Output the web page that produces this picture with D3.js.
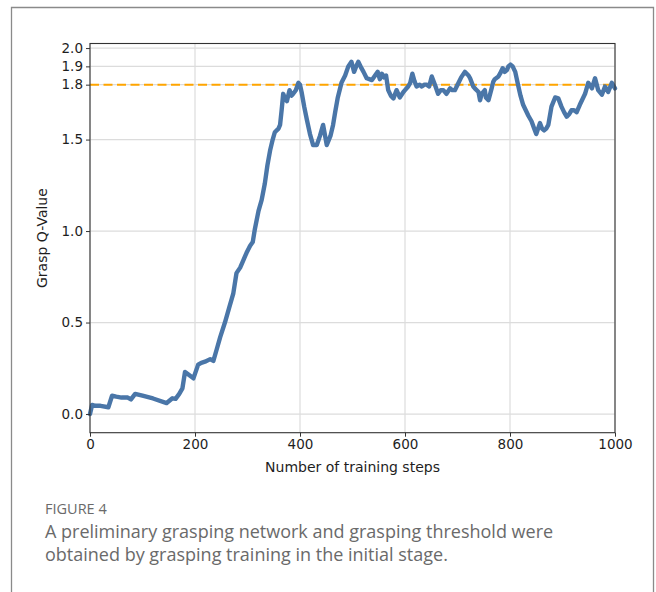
<!DOCTYPE html>
<html>
<head>
<meta charset="utf-8">
<script src="https://cdn.jsdelivr.net/npm/d3@7"></script>
<style>
  body { margin: 0; background: #fff; }
  svg { display: block; }
  .tick text { font-family: "DejaVu Sans", sans-serif; font-size: 13.5px; fill: #1e1e1e; }
</style>
</head>
<body>
<svg id="chart" width="656" height="592"></svg>
<script>
// training steps and smoothed grasp Q-values
const steps = [0, 4, 10, 20, 35, 42, 50, 60, 72, 78, 86, 100, 120, 146, 157, 163, 170, 176, 181, 190,
  197, 206, 212, 219, 229, 235, 241, 248, 257, 265, 273, 279, 286, 292, 298, 305, 310, 314, 321, 327,
  333, 338, 343, 348, 352, 359, 362, 365, 368, 372, 375, 380, 384, 387, 392, 397, 400, 403, 408, 413,
  419, 425, 432, 438, 444, 451, 458, 463, 467, 472, 479, 486, 492, 498, 503, 507, 511, 517, 521, 527,
  532, 537, 543, 548, 552, 556, 560, 564, 568, 573, 578, 584, 590, 597, 600, 606, 610, 614, 618, 622,
  628, 632, 637, 641, 646, 651, 657, 663, 668, 673, 679, 686, 690, 695, 702, 707, 714, 721, 724, 730,
  733, 740, 743, 746, 752, 754, 759, 765, 768, 771, 778, 781, 786, 790, 794, 797, 801, 805, 810, 816,
  820, 825, 830, 835, 841, 846, 850, 857, 861, 865, 869, 873, 879, 886, 892, 898, 903, 908, 913, 917,
  922, 927, 933, 938, 943, 949, 956, 962, 968, 975, 981, 987, 994, 1000];
const qValues = [0.00, 0.05, 0.045, 0.045, 0.037, 0.10, 0.095, 0.09, 0.09, 0.08, 0.11, 0.10, 0.085, 0.06, 0.086, 0.083, 0.11, 0.14, 0.23, 0.21,
  0.195, 0.27, 0.28, 0.286, 0.30, 0.29, 0.35, 0.42, 0.50, 0.58, 0.66, 0.77, 0.80, 0.84, 0.88, 0.92, 0.94, 1.01, 1.11, 1.17,
  1.26, 1.36, 1.44, 1.50, 1.54, 1.56, 1.58, 1.66, 1.75, 1.72, 1.71, 1.77, 1.74, 1.75, 1.77, 1.81, 1.80, 1.76, 1.68, 1.61,
  1.53, 1.47, 1.47, 1.52, 1.58, 1.47, 1.52, 1.58, 1.65, 1.73, 1.81, 1.85, 1.90, 1.925, 1.87, 1.90, 1.925, 1.89, 1.87, 1.835,
  1.83, 1.825, 1.85, 1.87, 1.83, 1.86, 1.84, 1.85, 1.77, 1.74, 1.725, 1.77, 1.73, 1.76, 1.77, 1.79, 1.81, 1.86, 1.82, 1.79,
  1.80, 1.79, 1.80, 1.80, 1.79, 1.845, 1.80, 1.75, 1.77, 1.77, 1.75, 1.78, 1.77, 1.77, 1.81, 1.84, 1.87, 1.85, 1.835, 1.79,
  1.78, 1.76, 1.715, 1.75, 1.77, 1.73, 1.715, 1.78, 1.815, 1.83, 1.845, 1.86, 1.89, 1.87, 1.88, 1.90, 1.91, 1.90, 1.87, 1.79,
  1.74, 1.69, 1.66, 1.63, 1.60, 1.56, 1.53, 1.59, 1.56, 1.55, 1.56, 1.58, 1.68, 1.73, 1.725, 1.68, 1.65, 1.625, 1.64, 1.66,
  1.66, 1.65, 1.69, 1.72, 1.75, 1.81, 1.78, 1.835, 1.77, 1.745, 1.79, 1.76, 1.81, 1.78];
const threshold = 1.8;
const xTicks = [0, 200, 400, 600, 800, 1000];
const yTicks = [0.0, 0.5, 1.0, 1.5, 1.8, 1.9, 2.0];
const captionTitle = "FIGURE 4";
const captionLines = [
  "A preliminary grasping network and grasping threshold were",
  "obtained by grasping training in the initial stage."
];

const svg = d3.select("#chart");

// outer figure frame (open at the bottom)
svg.append("path")
  .attr("d", "M11.5,592 V7.5 H653.5 V592")
  .attr("fill", "none")
  .attr("stroke", "#8a8a8a")
  .attr("stroke-width", 1.3);

const plotL = 90, plotR = 615, plotT = 43.5, plotB = 432.7;

const x = d3.scaleLinear().domain([0, 1000]).range([plotL, plotR]);
const y = d3.scaleLinear().domain([-0.102, 2.025]).range([plotB, plotT]);

// grid lines
svg.append("g")
  .selectAll("line")
  .data(xTicks)
  .join("line")
  .attr("x1", d => x(d)).attr("x2", d => x(d))
  .attr("y1", plotT).attr("y2", plotB)
  .attr("stroke", "#dcdcdc").attr("stroke-width", 1.2);

svg.append("g")
  .selectAll("line")
  .data(yTicks)
  .join("line")
  .attr("x1", plotL).attr("x2", plotR)
  .attr("y1", d => y(d)).attr("y2", d => y(d))
  .attr("stroke", "#dcdcdc").attr("stroke-width", 1.2);

// threshold line
svg.append("line")
  .attr("x1", plotL).attr("x2", plotR)
  .attr("y1", y(threshold)).attr("y2", y(threshold))
  .attr("stroke", "#ffa500")
  .attr("stroke-width", 2)
  .attr("stroke-dasharray", "9,4.5");

// Q-value curve
const pts = steps.map((s, i) => [s, qValues[i]]);
svg.append("path")
  .datum(pts)
  .attr("fill", "none")
  .attr("stroke", "#4a76a8")
  .attr("stroke-width", 4.4)
  .attr("stroke-linejoin", "round")
  .attr("stroke-linecap", "round")
  .attr("d", d3.line().x(d => x(d[0])).y(d => y(d[1])));

// spines
svg.append("rect")
  .attr("x", plotL).attr("y", plotT)
  .attr("width", plotR - plotL).attr("height", plotB - plotT)
  .attr("fill", "none")
  .attr("stroke", "#333")
  .attr("stroke-width", 1.1);

// axes
const axisX = d3.axisBottom(x).tickValues(xTicks).tickFormat(d3.format("d")).tickSize(4).tickPadding(3);
const gx = svg.append("g")
  .attr("transform", `translate(0,${plotB})`)
  .call(axisX);
gx.select(".domain").remove();
gx.selectAll(".tick line").attr("stroke", "#333");

const axisY = d3.axisLeft(y).tickValues(yTicks).tickFormat(d3.format(".1f")).tickSize(4).tickPadding(3);
const gy = svg.append("g")
  .attr("transform", `translate(${plotL},0)`)
  .call(axisY);
gy.select(".domain").remove();
gy.selectAll(".tick line").attr("stroke", "#333");

// axis labels
svg.append("text")
  .attr("x", (plotL + plotR) / 2)
  .attr("y", 472)
  .style("text-anchor", "middle")
  .style("font-family", "DejaVu Sans, sans-serif")
  .style("font-size", "14px")
  .style("fill", "#1e1e1e")
  .text("Number of training steps");

svg.append("text")
  .attr("transform", `translate(47,${(plotT + plotB) / 2}) rotate(-90)`)
  .style("text-anchor", "middle")
  .style("font-family", "DejaVu Sans, sans-serif")
  .style("font-size", "14px")
  .style("fill", "#1e1e1e")
  .text("Grasp Q-Value");

// caption
svg.append("text")
  .attr("x", 45).attr("y", 514)
  .style("font-family", "Open Sans, sans-serif")
  .style("font-size", "14.5px")
  .style("fill", "#6a6a6a")
  .text(captionTitle);

svg.selectAll("text.cap")
  .data(captionLines)
  .join("text")
  .attr("class", "cap")
  .attr("x", 45)
  .attr("y", (d, i) => 538 + i * 23)
  .style("font-family", "Open Sans, sans-serif")
  .style("font-size", "18px")
  .style("fill", "#6a6a6a")
  .text(d => d);
</script>
</body>
</html>
